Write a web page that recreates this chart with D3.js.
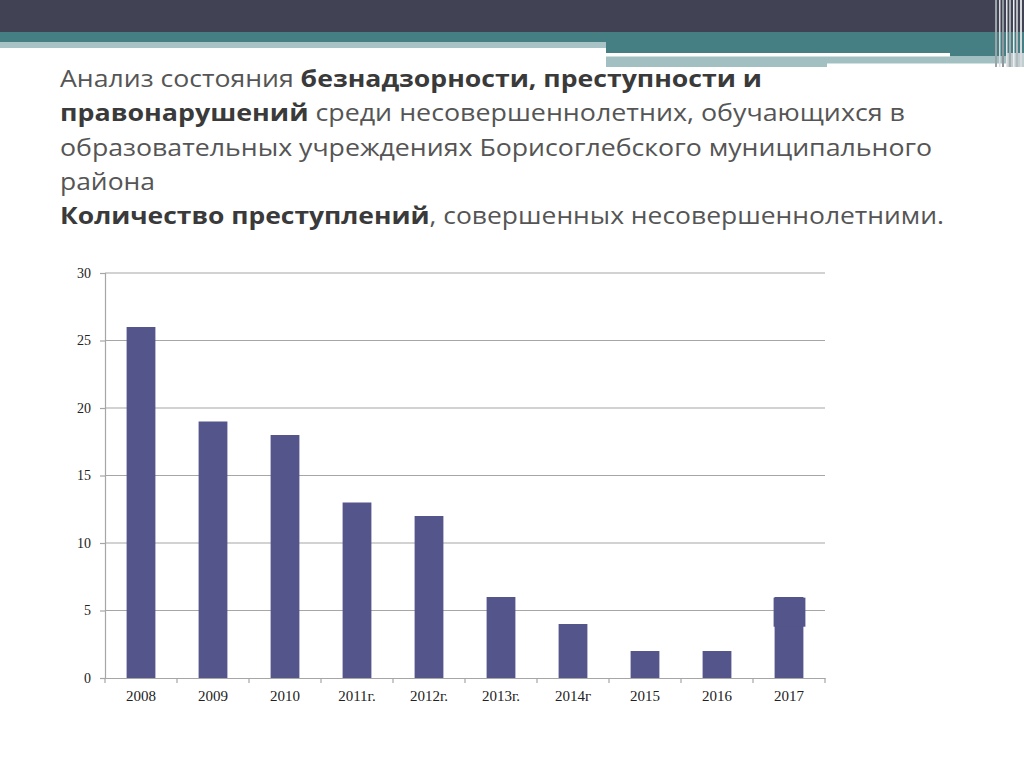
<!DOCTYPE html>
<html>
<head>
<meta charset="utf-8">
<script src="https://cdn.jsdelivr.net/npm/d3@7"></script>
<style>
  body { margin: 0; background: #fff; }
  svg { display: block; }
</style>
</head>
<body>
<script>
// chart data
var years = ["2008", "2009", "2010", "2011г.", "2012г.", "2013г.", "2014г", "2015", "2016", "2017"];
var crimes = [26, 19, 18, 13, 12, 6, 4, 2, 2, 6];
var yTicks = [0, 5, 10, 15, 20, 25, 30];

// title lines: [text, bold]
var titleLines = [
  [["Анализ состояния ", false], ["безнадзорности, преступности и", true]],
  [["правонарушений", true], [" среди несовершеннолетних, обучающихся в", false]],
  [["образовательных учреждениях Борисоглебского муниципального", false]],
  [["района", false]],
  [["Количество преступлений", true], [", совершенных несовершеннолетними.", false]]
];
var titleEnds = [762, 905, 932, 155, 944];

var W = 1024, H = 767;
var svg = d3.select("body").append("svg")
    .attr("width", W)
    .attr("height", H);

// header decoration
svg.append("rect").attr("x", 0).attr("y", 0).attr("width", W).attr("height", 32).attr("fill", "#414355");
svg.append("rect").attr("x", 0).attr("y", 32).attr("width", W).attr("height", 21).attr("fill", "#457f84");
svg.append("rect").attr("x", 0).attr("y", 42).attr("width", 606).attr("height", 6).attr("fill", "#a7c3c5");
svg.append("rect").attr("x", 0).attr("y", 48).attr("width", 606).attr("height", 6).attr("fill", "#fff");
svg.append("rect").attr("x", 606).attr("y", 53).attr("width", 344).attr("height", 3.5).attr("fill", "#fff");
svg.append("rect").attr("x", 950).attr("y", 53).attr("width", 74).attr("height", 3.5).attr("fill", "#457f84");
svg.append("rect").attr("x", 606).attr("y", 56.5).attr("width", 400).attr("height", 10.5).attr("fill", "#a2c0c2");
svg.append("rect").attr("x", 827).attr("y", 63.5).attr("width", 180).attr("height", 4).attr("fill", "#fff");
svg.append("rect").attr("x", 1006).attr("y", 53).attr("width", 18).attr("height", 14).attr("fill", "#bfcfd1");

// right vertical stripes
var stripes = [[995, 2, "#9aa3a8"], [999, 1.5, "#d8dcdf"], [1002, 2, "#8f979c"], [1006, 1.5, "#e4e7e9"],
               [1009, 2, "#a4acb0"], [1013, 1.5, "#eceef0"], [1016, 2, "#b3b9bd"], [1020, 2, "#d6dadc"]];
stripes.forEach(function(s) {
  svg.append("rect").attr("x", s[0]).attr("y", 0).attr("width", s[1]).attr("height", 67).attr("fill", s[2]);
});

// title
var title = svg.append("g").attr("font-family", "'Open Sans', 'DejaVu Sans', sans-serif").attr("font-size", 23.5);
titleLines.forEach(function(line, i) {
  var t = title.append("text")
      .attr("x", 60)
      .attr("y", 87 + i * 34.3)
      .attr("textLength", titleEnds[i] - 60)
      .attr("lengthAdjust", "spacingAndGlyphs");
  line.forEach(function(part) {
    t.append("tspan")
      .attr("font-weight", part[1] ? "bold" : "normal")
      .attr("fill", part[1] ? "#3a3a3a" : "#555555")
      .text(part[0]);
  });
});

// chart
var plotLeft = 105, plotRight = 825, plotTop = 273, plotBottom = 678;

var x = d3.scaleBand()
    .domain(years)
    .range([plotLeft, plotRight])
    .paddingInner(0.6)
    .paddingOuter(0.3);
var xTicksScale = d3.scaleBand().domain(years).range([plotLeft, plotRight]);

var y = d3.scaleLinear()
    .domain([0, 30])
    .range([plotBottom, plotTop]);

// gridlines
svg.append("g").selectAll("line")
    .data(yTicks.filter(function(d) { return d > 0; }))
    .enter().append("line")
    .attr("x1", plotLeft).attr("x2", plotRight)
    .attr("y1", function(d) { return y(d); })
    .attr("y2", function(d) { return y(d); })
    .attr("stroke", "#a6a6a6")
    .attr("stroke-width", 1.2);

// bars
var barColor = "#54558b";
svg.append("g").selectAll("rect")
    .data(crimes)
    .enter().append("rect")
    .attr("x", function(d, i) { return x(years[i]); })
    .attr("y", function(d) { return y(d); })
    .attr("width", x.bandwidth())
    .attr("height", function(d) { return plotBottom - y(d); })
    .attr("fill", barColor);

// the wider cap on the 2017 bar in the original
var last = years.length - 1;
svg.append("rect")
    .attr("x", x(years[last]) - 1)
    .attr("y", y(crimes[last] - 0.05))
    .attr("width", x.bandwidth() + 3)
    .attr("height", y(3.8) - y(crimes[last] - 0.05))
    .attr("fill", barColor);

var labelFont = "'Liberation Serif', 'DejaVu Serif', serif";

// y axis
var yAxis = svg.append("g")
    .attr("transform", "translate(" + plotLeft + ",0)")
    .call(d3.axisLeft(y).tickValues(yTicks).tickSize(5).tickPadding(9));
yAxis.select(".domain").attr("stroke", "#a6a6a6").attr("stroke-width", 1.2);
yAxis.selectAll(".tick line").attr("stroke", "#a6a6a6").attr("stroke-width", 1.2);
yAxis.selectAll("text")
    .attr("font-family", labelFont)
    .attr("font-size", 14)
    .attr("fill", "#222");

// x axis
var xAxis = svg.append("g")
    .attr("transform", "translate(0," + plotBottom + ")")
    .call(d3.axisBottom(x).tickSize(0).tickPadding(12));
xAxis.select(".domain").attr("stroke", "#a6a6a6").attr("stroke-width", 1.2);
xAxis.selectAll("text")
    .attr("font-family", labelFont)
    .attr("font-size", 15)
    .attr("fill", "#222");
xAxis.selectAll(".sep")
    .data(years.concat(["end"]))
    .enter().append("line")
    .attr("class", "sep")
    .attr("x1", function(d, i) { return i < years.length ? xTicksScale(d) : plotRight; })
    .attr("x2", function(d, i) { return i < years.length ? xTicksScale(d) : plotRight; })
    .attr("y1", 0).attr("y2", 5)
    .attr("stroke", "#a6a6a6")
    .attr("stroke-width", 1.2);
</script>
</body>
</html>
